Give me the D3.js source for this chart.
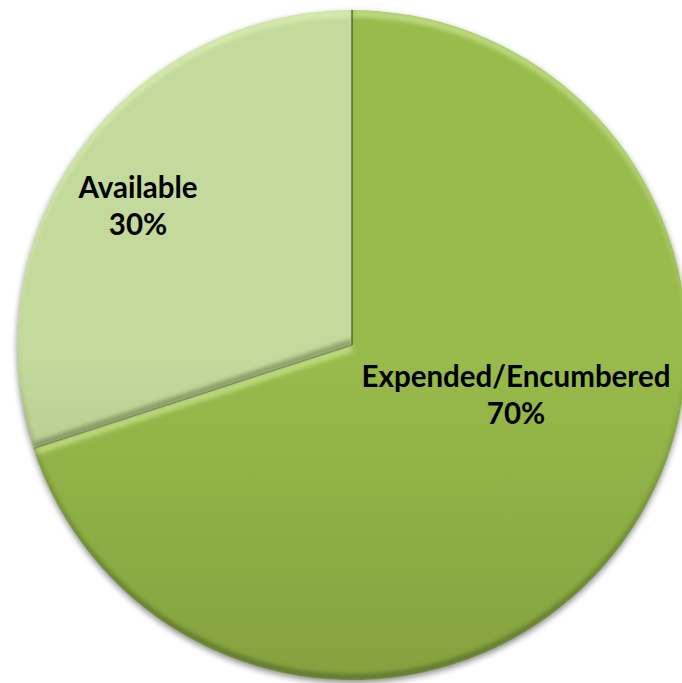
<!DOCTYPE html>
<html>
<head>
<meta charset="utf-8">
<script src="https://cdn.jsdelivr.net/npm/d3@7"></script>
<style>
  html, body { margin: 0; padding: 0; background: #fff; }
  svg { display: block; }
  filter { color-interpolation-filters: sRGB; }
</style>
</head>
<body>
<svg id="chart" width="682" height="683"></svg>
<script>
const categories = ['Expended/Encumbered', 'Available'];
const values = [70, 30];
const percentLabels = ['70%', '30%'];

const width = 682, height = 683;
const cx = 352, cy = 345, radius = 335;

const svg = d3.select('#chart');
const defs = svg.append('defs');

// vertical gradients, one per slice
const gradStops = [
  [['0%', '#98bb4b'], ['100%', '#6e8832']],
  [['0%', '#c4d99c'], ['100%', '#7a8e5a']]
];
gradStops.forEach((stops, i) => {
  const g = defs.append('linearGradient')
    .attr('id', 'grad' + i)
    .attr('gradientUnits', 'userSpaceOnUse')
    .attr('x1', 0).attr('x2', 0)
    .attr('y1', cy - radius).attr('y2', cy + radius);
  stops.forEach(s => g.append('stop').attr('offset', s[0]).attr('stop-color', s[1]));
});

// bevel: light strip along upper edges, dark strip along lower edges
const bevel = defs.append('filter').attr('id', 'bevel')
  .attr('color-interpolation-filters', 'sRGB')
  .attr('x', '-5%').attr('y', '-5%').attr('width', '110%').attr('height', '110%');
bevel.append('feOffset').attr('in', 'SourceAlpha').attr('dy', 7).attr('result', 'down');
bevel.append('feComposite').attr('in', 'SourceAlpha').attr('in2', 'down').attr('operator', 'out').attr('result', 'topEdge');
bevel.append('feGaussianBlur').attr('in', 'topEdge').attr('stdDeviation', 2.5).attr('result', 'topBlur');
bevel.append('feFlood').attr('flood-color', '#eaffc0').attr('flood-opacity', 0.5).attr('result', 'white');
bevel.append('feComposite').attr('in', 'white').attr('in2', 'topBlur').attr('operator', 'in').attr('result', 'hi');
bevel.append('feOffset').attr('in', 'SourceAlpha').attr('dy', -6).attr('result', 'up');
bevel.append('feComposite').attr('in', 'SourceAlpha').attr('in2', 'up').attr('operator', 'out').attr('result', 'botEdge');
bevel.append('feGaussianBlur').attr('in', 'botEdge').attr('stdDeviation', 2).attr('result', 'botBlur');
bevel.append('feFlood').attr('flood-color', '#2e3a14').attr('flood-opacity', 0.4).attr('result', 'dark');
bevel.append('feComposite').attr('in', 'dark').attr('in2', 'botBlur').attr('operator', 'in').attr('result', 'lo');
const bm = bevel.append('feMerge').attr('result', 'merged');
bm.append('feMergeNode').attr('in', 'SourceGraphic');
bm.append('feMergeNode').attr('in', 'hi');
bm.append('feMergeNode').attr('in', 'lo');
bevel.append('feComposite').attr('in', 'merged').attr('in2', 'SourceAlpha').attr('operator', 'in');

// drop shadow under the whole pie
const shadow = defs.append('filter').attr('id', 'shadow')
  .attr('color-interpolation-filters', 'sRGB')
  .attr('x', '-10%').attr('y', '-10%').attr('width', '120%').attr('height', '120%');
shadow.append('feGaussianBlur').attr('in', 'SourceAlpha').attr('stdDeviation', 3).attr('result', 'b');
shadow.append('feOffset').attr('in', 'b').attr('dx', 0).attr('dy', 3).attr('result', 'o');
shadow.append('feComponentTransfer').attr('in', 'o').attr('result', 'f')
  .append('feFuncA').attr('type', 'linear').attr('slope', 0.45);
const merge = shadow.append('feMerge');
merge.append('feMergeNode').attr('in', 'f');
merge.append('feMergeNode').attr('in', 'SourceGraphic');

const pie = d3.pie().sort(null).value(d => d)(values);
const arc = d3.arc().innerRadius(0).outerRadius(radius);

const g = svg.append('g')
  .attr('transform', `translate(${cx},${cy})`)
  .attr('filter', 'url(#shadow)');

g.selectAll('path.slice')
  .data(pie)
  .join('path')
  .attr('class', 'slice')
  .attr('d', arc)
  .attr('fill', (d, i) => `url(#grad${i})`)
  .attr('filter', 'url(#bevel)');

// dark seam between the slices
g.selectAll('line.seam')
  .data(pie)
  .join('line')
  .attr('class', 'seam')
  .attr('x1', 0).attr('y1', 0)
  .attr('x2', d => radius * Math.sin(d.startAngle))
  .attr('y2', d => -radius * Math.cos(d.startAngle))
  .attr('stroke', '#3c4a26')
  .attr('stroke-opacity', d => d.index === 0 ? 0.75 : 0.3)
  .attr('stroke-width', 1.5);

// labels
const labelPos = [[516, 387], [138, 198]];
const lineGap = 37;
const labels = svg.append('g')
  .attr('font-family', 'Lato, "Open Sans", sans-serif')
  .attr('font-weight', 'bold')
  .attr('font-size', 29.5)
  .attr('fill', '#000')
  .attr('text-anchor', 'middle');

categories.forEach((c, i) => {
  const t = labels.append('text')
    .attr('x', labelPos[i][0]).attr('y', labelPos[i][1]);
  t.append('tspan').attr('x', labelPos[i][0]).text(c);
  t.append('tspan').attr('x', labelPos[i][0]).attr('dy', lineGap).text(percentLabels[i]);
});
</script>
</body>
</html>
